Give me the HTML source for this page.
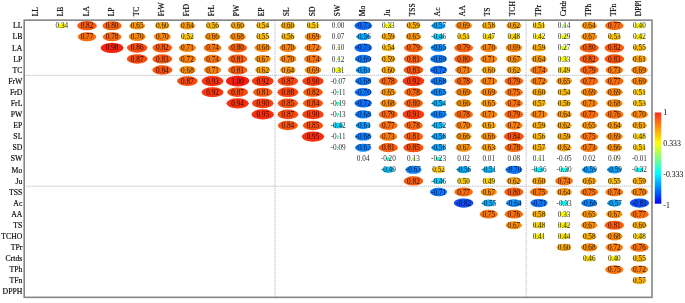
<!DOCTYPE html><html><head><meta charset="utf-8"><title>Correlation plot</title>
<style>html,body{margin:0;padding:0;background:#fff;overflow:hidden}svg{display:block}text{font-family:"Liberation Serif",serif;fill:#000}</style></head><body>
<svg width="685" height="303" viewBox="0 0 685 303">
<defs><linearGradient id="cb" x1="0" y1="0" x2="0" y2="1"><stop offset="0" stop-color="#ff2a1a"/><stop offset="0.3333" stop-color="#ffff00"/><stop offset="0.5" stop-color="#80ff80"/><stop offset="0.6667" stop-color="#00ffff"/><stop offset="1" stop-color="#0000ff"/></linearGradient><clipPath id="topclip"><rect x="0" y="0.9" width="685" height="30"/></clipPath></defs>
<rect x="0" y="0" width="685" height="303" fill="#fff"/>
<line x1="24.2" y1="75.33" x2="652.0" y2="75.33" stroke="#9a9ea8" stroke-width="0.75" stroke-dasharray="1.1 0.9"/>
<line x1="24.2" y1="186.19" x2="652.0" y2="186.19" stroke="#9a9ea8" stroke-width="0.75" stroke-dasharray="1.1 0.9"/>
<line x1="275.02" y1="20.1" x2="275.02" y2="297.3" stroke="#9a9ea8" stroke-width="0.75" stroke-dasharray="1.1 0.9"/>
<line x1="526.14" y1="20.1" x2="526.14" y2="297.3" stroke="#9a9ea8" stroke-width="0.75" stroke-dasharray="1.1 0.9"/>
<ellipse cx="61.87" cy="25.69" rx="4.22" ry="2.49" fill="rgb(248,245,14)"/>
<ellipse cx="86.98" cy="25.69" rx="9.81" ry="4.61" fill="rgb(248,91,14)"/>
<ellipse cx="112.09" cy="25.69" rx="9.59" ry="4.53" fill="rgb(248,98,14)"/>
<ellipse cx="137.20" cy="25.69" rx="7.91" ry="3.92" fill="rgb(248,151,14)"/>
<ellipse cx="162.32" cy="25.69" rx="7.33" ry="3.71" fill="rgb(248,168,14)"/>
<ellipse cx="187.43" cy="25.69" rx="7.79" ry="3.88" fill="rgb(248,154,14)"/>
<ellipse cx="212.54" cy="25.69" rx="6.86" ry="3.53" fill="rgb(248,183,14)"/>
<ellipse cx="237.65" cy="25.69" rx="7.33" ry="3.71" fill="rgb(248,168,14)"/>
<ellipse cx="262.76" cy="25.69" rx="6.62" ry="3.44" fill="rgb(248,189,14)"/>
<ellipse cx="287.88" cy="25.69" rx="7.33" ry="3.71" fill="rgb(248,168,14)"/>
<ellipse cx="312.99" cy="25.69" rx="6.27" ry="3.31" fill="rgb(248,200,14)"/>
<ellipse cx="363.21" cy="25.69" rx="8.81" ry="4.25" fill="rgb(14,108,248)"/>
<ellipse cx="388.32" cy="25.69" rx="4.10" ry="2.44" fill="rgb(247,248,15)"/>
<ellipse cx="413.44" cy="25.69" rx="7.21" ry="3.66" fill="rgb(248,172,14)"/>
<ellipse cx="438.55" cy="25.69" rx="6.98" ry="3.58" fill="rgb(14,164,248)"/>
<ellipse cx="463.66" cy="25.69" rx="8.36" ry="4.09" fill="rgb(248,137,14)"/>
<ellipse cx="488.77" cy="25.69" rx="7.09" ry="3.62" fill="rgb(248,176,14)"/>
<ellipse cx="513.88" cy="25.69" rx="7.56" ry="3.79" fill="rgb(248,162,14)"/>
<ellipse cx="539.00" cy="25.69" rx="6.27" ry="3.31" fill="rgb(248,200,14)"/>
<ellipse cx="564.11" cy="25.69" rx="1.75" ry="1.34" fill="rgb(180,248,82)"/>
<ellipse cx="589.22" cy="25.69" rx="7.79" ry="3.88" fill="rgb(248,154,14)"/>
<ellipse cx="614.33" cy="25.69" rx="9.26" ry="4.41" fill="rgb(248,108,14)"/>
<ellipse cx="639.44" cy="25.69" rx="4.95" ry="2.79" fill="rgb(248,239,14)"/>
<ellipse cx="86.98" cy="36.78" rx="9.26" ry="4.41" fill="rgb(248,108,14)"/>
<ellipse cx="112.09" cy="36.78" rx="9.37" ry="4.45" fill="rgb(248,105,14)"/>
<ellipse cx="137.20" cy="36.78" rx="8.48" ry="4.13" fill="rgb(248,133,14)"/>
<ellipse cx="162.32" cy="36.78" rx="8.48" ry="4.13" fill="rgb(248,133,14)"/>
<ellipse cx="187.43" cy="36.78" rx="6.39" ry="3.35" fill="rgb(248,197,14)"/>
<ellipse cx="212.54" cy="36.78" rx="8.02" ry="3.96" fill="rgb(248,147,14)"/>
<ellipse cx="237.65" cy="36.78" rx="8.25" ry="4.05" fill="rgb(248,141,14)"/>
<ellipse cx="262.76" cy="36.78" rx="6.74" ry="3.49" fill="rgb(248,186,14)"/>
<ellipse cx="287.88" cy="36.78" rx="6.86" ry="3.53" fill="rgb(248,183,14)"/>
<ellipse cx="312.99" cy="36.78" rx="8.36" ry="4.09" fill="rgb(248,137,14)"/>
<ellipse cx="338.10" cy="36.78" rx="0.87" ry="0.82" fill="rgb(155,248,107)"/>
<ellipse cx="363.21" cy="36.78" rx="6.86" ry="3.53" fill="rgb(14,168,248)"/>
<ellipse cx="388.32" cy="36.78" rx="7.21" ry="3.66" fill="rgb(248,172,14)"/>
<ellipse cx="413.44" cy="36.78" rx="7.91" ry="3.92" fill="rgb(248,151,14)"/>
<ellipse cx="438.55" cy="36.78" rx="5.67" ry="3.08" fill="rgb(14,204,248)"/>
<ellipse cx="463.66" cy="36.78" rx="6.27" ry="3.31" fill="rgb(248,200,14)"/>
<ellipse cx="488.77" cy="36.78" rx="5.79" ry="3.12" fill="rgb(248,214,14)"/>
<ellipse cx="513.88" cy="36.78" rx="5.91" ry="3.17" fill="rgb(248,210,14)"/>
<ellipse cx="539.00" cy="36.78" rx="5.19" ry="2.89" fill="rgb(248,232,14)"/>
<ellipse cx="564.11" cy="36.78" rx="3.61" ry="2.23" fill="rgb(233,248,29)"/>
<ellipse cx="589.22" cy="36.78" rx="8.13" ry="4.00" fill="rgb(248,144,14)"/>
<ellipse cx="614.33" cy="36.78" rx="6.51" ry="3.40" fill="rgb(248,193,14)"/>
<ellipse cx="639.44" cy="36.78" rx="5.19" ry="2.89" fill="rgb(248,232,14)"/>
<ellipse cx="112.09" cy="47.87" rx="11.50" ry="5.23" fill="rgb(248,35,14)"/>
<ellipse cx="137.20" cy="47.87" rx="10.24" ry="4.77" fill="rgb(248,77,14)"/>
<ellipse cx="162.32" cy="47.87" rx="9.81" ry="4.61" fill="rgb(248,91,14)"/>
<ellipse cx="187.43" cy="47.87" rx="8.59" ry="4.17" fill="rgb(248,130,14)"/>
<ellipse cx="212.54" cy="47.87" rx="8.93" ry="4.29" fill="rgb(248,119,14)"/>
<ellipse cx="237.65" cy="47.87" rx="9.59" ry="4.53" fill="rgb(248,98,14)"/>
<ellipse cx="262.76" cy="47.87" rx="8.25" ry="4.05" fill="rgb(248,141,14)"/>
<ellipse cx="287.88" cy="47.87" rx="8.48" ry="4.13" fill="rgb(248,133,14)"/>
<ellipse cx="312.99" cy="47.87" rx="8.70" ry="4.21" fill="rgb(248,126,14)"/>
<ellipse cx="338.10" cy="47.87" rx="1.25" ry="1.06" fill="rgb(166,248,95)"/>
<ellipse cx="363.21" cy="47.87" rx="8.81" ry="4.25" fill="rgb(14,108,248)"/>
<ellipse cx="388.32" cy="47.87" rx="6.62" ry="3.44" fill="rgb(248,189,14)"/>
<ellipse cx="413.44" cy="47.87" rx="9.48" ry="4.49" fill="rgb(248,102,14)"/>
<ellipse cx="438.55" cy="47.87" rx="7.91" ry="3.92" fill="rgb(14,137,248)"/>
<ellipse cx="463.66" cy="47.87" rx="9.48" ry="4.49" fill="rgb(248,102,14)"/>
<ellipse cx="488.77" cy="47.87" rx="8.48" ry="4.13" fill="rgb(248,133,14)"/>
<ellipse cx="513.88" cy="47.87" rx="8.36" ry="4.09" fill="rgb(248,137,14)"/>
<ellipse cx="539.00" cy="47.87" rx="7.21" ry="3.66" fill="rgb(248,172,14)"/>
<ellipse cx="564.11" cy="47.87" rx="3.36" ry="2.12" fill="rgb(226,248,36)"/>
<ellipse cx="589.22" cy="47.87" rx="9.59" ry="4.53" fill="rgb(248,98,14)"/>
<ellipse cx="614.33" cy="47.87" rx="9.81" ry="4.61" fill="rgb(248,91,14)"/>
<ellipse cx="639.44" cy="47.87" rx="6.74" ry="3.49" fill="rgb(248,186,14)"/>
<ellipse cx="137.20" cy="58.95" rx="10.35" ry="4.81" fill="rgb(248,73,14)"/>
<ellipse cx="162.32" cy="58.95" rx="9.92" ry="4.65" fill="rgb(248,87,14)"/>
<ellipse cx="187.43" cy="58.95" rx="8.70" ry="4.21" fill="rgb(248,126,14)"/>
<ellipse cx="212.54" cy="58.95" rx="8.93" ry="4.29" fill="rgb(248,119,14)"/>
<ellipse cx="237.65" cy="58.95" rx="9.70" ry="4.57" fill="rgb(248,95,14)"/>
<ellipse cx="262.76" cy="58.95" rx="8.13" ry="4.00" fill="rgb(248,144,14)"/>
<ellipse cx="287.88" cy="58.95" rx="8.48" ry="4.13" fill="rgb(248,133,14)"/>
<ellipse cx="312.99" cy="58.95" rx="8.93" ry="4.29" fill="rgb(248,119,14)"/>
<ellipse cx="338.10" cy="58.95" rx="1.50" ry="1.20" fill="rgb(173,248,89)"/>
<ellipse cx="363.21" cy="58.95" rx="8.36" ry="4.09" fill="rgb(14,123,248)"/>
<ellipse cx="388.32" cy="58.95" rx="7.21" ry="3.66" fill="rgb(248,172,14)"/>
<ellipse cx="413.44" cy="58.95" rx="9.70" ry="4.57" fill="rgb(248,95,14)"/>
<ellipse cx="438.55" cy="58.95" rx="8.36" ry="4.09" fill="rgb(14,123,248)"/>
<ellipse cx="463.66" cy="58.95" rx="9.59" ry="4.53" fill="rgb(248,98,14)"/>
<ellipse cx="488.77" cy="58.95" rx="8.59" ry="4.17" fill="rgb(248,130,14)"/>
<ellipse cx="513.88" cy="58.95" rx="8.13" ry="4.00" fill="rgb(248,144,14)"/>
<ellipse cx="539.00" cy="58.95" rx="7.79" ry="3.88" fill="rgb(248,154,14)"/>
<ellipse cx="564.11" cy="58.95" rx="4.10" ry="2.44" fill="rgb(247,248,15)"/>
<ellipse cx="589.22" cy="58.95" rx="9.81" ry="4.61" fill="rgb(248,91,14)"/>
<ellipse cx="614.33" cy="58.95" rx="9.92" ry="4.65" fill="rgb(248,87,14)"/>
<ellipse cx="639.44" cy="58.95" rx="7.44" ry="3.75" fill="rgb(248,164,14)"/>
<ellipse cx="162.32" cy="70.04" rx="10.03" ry="4.69" fill="rgb(248,84,14)"/>
<ellipse cx="187.43" cy="70.04" rx="8.25" ry="4.05" fill="rgb(248,141,14)"/>
<ellipse cx="212.54" cy="70.04" rx="8.59" ry="4.17" fill="rgb(248,130,14)"/>
<ellipse cx="237.65" cy="70.04" rx="9.70" ry="4.57" fill="rgb(248,95,14)"/>
<ellipse cx="262.76" cy="70.04" rx="7.56" ry="3.79" fill="rgb(248,162,14)"/>
<ellipse cx="287.88" cy="70.04" rx="7.79" ry="3.88" fill="rgb(248,154,14)"/>
<ellipse cx="312.99" cy="70.04" rx="8.36" ry="4.09" fill="rgb(248,137,14)"/>
<ellipse cx="338.10" cy="70.04" rx="3.85" ry="2.33" fill="rgb(240,248,22)"/>
<ellipse cx="363.21" cy="70.04" rx="7.44" ry="3.75" fill="rgb(14,151,248)"/>
<ellipse cx="388.32" cy="70.04" rx="7.33" ry="3.71" fill="rgb(248,168,14)"/>
<ellipse cx="413.44" cy="70.04" rx="9.92" ry="4.65" fill="rgb(248,87,14)"/>
<ellipse cx="438.55" cy="70.04" rx="8.70" ry="4.21" fill="rgb(14,112,248)"/>
<ellipse cx="463.66" cy="70.04" rx="8.59" ry="4.17" fill="rgb(248,130,14)"/>
<ellipse cx="488.77" cy="70.04" rx="7.33" ry="3.71" fill="rgb(248,168,14)"/>
<ellipse cx="513.88" cy="70.04" rx="7.56" ry="3.79" fill="rgb(248,162,14)"/>
<ellipse cx="539.00" cy="70.04" rx="8.93" ry="4.29" fill="rgb(248,119,14)"/>
<ellipse cx="564.11" cy="70.04" rx="6.03" ry="3.22" fill="rgb(248,207,14)"/>
<ellipse cx="589.22" cy="70.04" rx="9.48" ry="4.49" fill="rgb(248,102,14)"/>
<ellipse cx="614.33" cy="70.04" rx="8.81" ry="4.25" fill="rgb(248,123,14)"/>
<ellipse cx="639.44" cy="70.04" rx="8.36" ry="4.09" fill="rgb(248,137,14)"/>
<ellipse cx="187.43" cy="81.12" rx="10.35" ry="4.81" fill="rgb(248,73,14)"/>
<ellipse cx="212.54" cy="81.12" rx="10.98" ry="5.04" fill="rgb(248,52,14)"/>
<ellipse cx="237.65" cy="81.12" rx="11.70" ry="5.30" fill="rgb(248,27,14)"/>
<ellipse cx="262.76" cy="81.12" rx="10.88" ry="5.00" fill="rgb(248,56,14)"/>
<ellipse cx="287.88" cy="81.12" rx="10.35" ry="4.81" fill="rgb(248,73,14)"/>
<ellipse cx="312.99" cy="81.12" rx="10.67" ry="4.92" fill="rgb(248,63,14)"/>
<ellipse cx="338.10" cy="81.12" rx="0.87" ry="0.82" fill="rgb(107,248,155)"/>
<ellipse cx="363.21" cy="81.12" rx="8.25" ry="4.05" fill="rgb(14,126,248)"/>
<ellipse cx="388.32" cy="81.12" rx="9.37" ry="4.45" fill="rgb(248,105,14)"/>
<ellipse cx="413.44" cy="81.12" rx="10.88" ry="5.00" fill="rgb(248,56,14)"/>
<ellipse cx="438.55" cy="81.12" rx="8.25" ry="4.05" fill="rgb(14,126,248)"/>
<ellipse cx="463.66" cy="81.12" rx="9.37" ry="4.45" fill="rgb(248,105,14)"/>
<ellipse cx="488.77" cy="81.12" rx="8.59" ry="4.17" fill="rgb(248,130,14)"/>
<ellipse cx="513.88" cy="81.12" rx="9.48" ry="4.49" fill="rgb(248,102,14)"/>
<ellipse cx="539.00" cy="81.12" rx="8.70" ry="4.21" fill="rgb(248,126,14)"/>
<ellipse cx="564.11" cy="81.12" rx="7.91" ry="3.92" fill="rgb(248,151,14)"/>
<ellipse cx="589.22" cy="81.12" rx="9.26" ry="4.41" fill="rgb(248,108,14)"/>
<ellipse cx="614.33" cy="81.12" rx="9.26" ry="4.41" fill="rgb(248,108,14)"/>
<ellipse cx="639.44" cy="81.12" rx="8.36" ry="4.09" fill="rgb(248,137,14)"/>
<ellipse cx="212.54" cy="92.21" rx="10.88" ry="5.00" fill="rgb(248,56,14)"/>
<ellipse cx="237.65" cy="92.21" rx="10.35" ry="4.81" fill="rgb(248,73,14)"/>
<ellipse cx="262.76" cy="92.21" rx="9.70" ry="4.57" fill="rgb(248,95,14)"/>
<ellipse cx="287.88" cy="92.21" rx="10.45" ry="4.85" fill="rgb(248,70,14)"/>
<ellipse cx="312.99" cy="92.21" rx="9.81" ry="4.61" fill="rgb(248,91,14)"/>
<ellipse cx="338.10" cy="92.21" rx="1.37" ry="1.13" fill="rgb(92,248,170)"/>
<ellipse cx="363.21" cy="92.21" rx="8.48" ry="4.13" fill="rgb(14,119,248)"/>
<ellipse cx="388.32" cy="92.21" rx="7.91" ry="3.92" fill="rgb(248,151,14)"/>
<ellipse cx="413.44" cy="92.21" rx="9.37" ry="4.45" fill="rgb(248,105,14)"/>
<ellipse cx="438.55" cy="92.21" rx="7.91" ry="3.92" fill="rgb(14,137,248)"/>
<ellipse cx="463.66" cy="92.21" rx="8.36" ry="4.09" fill="rgb(248,137,14)"/>
<ellipse cx="488.77" cy="92.21" rx="8.36" ry="4.09" fill="rgb(248,137,14)"/>
<ellipse cx="513.88" cy="92.21" rx="9.04" ry="4.33" fill="rgb(248,116,14)"/>
<ellipse cx="539.00" cy="92.21" rx="7.33" ry="3.71" fill="rgb(248,168,14)"/>
<ellipse cx="564.11" cy="92.21" rx="6.62" ry="3.44" fill="rgb(248,189,14)"/>
<ellipse cx="589.22" cy="92.21" rx="8.36" ry="4.09" fill="rgb(248,137,14)"/>
<ellipse cx="614.33" cy="92.21" rx="8.36" ry="4.09" fill="rgb(248,137,14)"/>
<ellipse cx="639.44" cy="92.21" rx="6.27" ry="3.31" fill="rgb(248,200,14)"/>
<ellipse cx="237.65" cy="103.30" rx="11.09" ry="5.08" fill="rgb(248,49,14)"/>
<ellipse cx="262.76" cy="103.30" rx="10.67" ry="4.92" fill="rgb(248,63,14)"/>
<ellipse cx="287.88" cy="103.30" rx="10.13" ry="4.73" fill="rgb(248,81,14)"/>
<ellipse cx="312.99" cy="103.30" rx="10.03" ry="4.69" fill="rgb(248,84,14)"/>
<ellipse cx="338.10" cy="103.30" rx="2.37" ry="1.66" fill="rgb(64,248,198)"/>
<ellipse cx="363.21" cy="103.30" rx="8.70" ry="4.21" fill="rgb(14,112,248)"/>
<ellipse cx="388.32" cy="103.30" rx="8.25" ry="4.05" fill="rgb(248,141,14)"/>
<ellipse cx="413.44" cy="103.30" rx="9.59" ry="4.53" fill="rgb(248,98,14)"/>
<ellipse cx="438.55" cy="103.30" rx="6.62" ry="3.44" fill="rgb(14,176,248)"/>
<ellipse cx="463.66" cy="103.30" rx="8.02" ry="3.96" fill="rgb(248,147,14)"/>
<ellipse cx="488.77" cy="103.30" rx="7.91" ry="3.92" fill="rgb(248,151,14)"/>
<ellipse cx="513.88" cy="103.30" rx="8.93" ry="4.29" fill="rgb(248,119,14)"/>
<ellipse cx="539.00" cy="103.30" rx="6.98" ry="3.58" fill="rgb(248,179,14)"/>
<ellipse cx="564.11" cy="103.30" rx="6.86" ry="3.53" fill="rgb(248,183,14)"/>
<ellipse cx="589.22" cy="103.30" rx="8.59" ry="4.17" fill="rgb(248,130,14)"/>
<ellipse cx="614.33" cy="103.30" rx="8.25" ry="4.05" fill="rgb(248,141,14)"/>
<ellipse cx="639.44" cy="103.30" rx="6.51" ry="3.40" fill="rgb(248,193,14)"/>
<ellipse cx="262.76" cy="114.38" rx="11.19" ry="5.11" fill="rgb(248,45,14)"/>
<ellipse cx="287.88" cy="114.38" rx="10.35" ry="4.81" fill="rgb(248,73,14)"/>
<ellipse cx="312.99" cy="114.38" rx="10.67" ry="4.92" fill="rgb(248,63,14)"/>
<ellipse cx="338.10" cy="114.38" rx="1.62" ry="1.27" fill="rgb(85,248,176)"/>
<ellipse cx="363.21" cy="114.38" rx="8.25" ry="4.05" fill="rgb(14,126,248)"/>
<ellipse cx="388.32" cy="114.38" rx="9.48" ry="4.49" fill="rgb(248,102,14)"/>
<ellipse cx="413.44" cy="114.38" rx="10.77" ry="4.96" fill="rgb(248,60,14)"/>
<ellipse cx="438.55" cy="114.38" rx="8.13" ry="4.00" fill="rgb(14,130,248)"/>
<ellipse cx="463.66" cy="114.38" rx="9.37" ry="4.45" fill="rgb(248,105,14)"/>
<ellipse cx="488.77" cy="114.38" rx="8.59" ry="4.17" fill="rgb(248,130,14)"/>
<ellipse cx="513.88" cy="114.38" rx="9.48" ry="4.49" fill="rgb(248,102,14)"/>
<ellipse cx="539.00" cy="114.38" rx="8.59" ry="4.17" fill="rgb(248,130,14)"/>
<ellipse cx="564.11" cy="114.38" rx="7.79" ry="3.88" fill="rgb(248,154,14)"/>
<ellipse cx="589.22" cy="114.38" rx="9.26" ry="4.41" fill="rgb(248,108,14)"/>
<ellipse cx="614.33" cy="114.38" rx="9.15" ry="4.37" fill="rgb(248,112,14)"/>
<ellipse cx="639.44" cy="114.38" rx="8.48" ry="4.13" fill="rgb(248,133,14)"/>
<ellipse cx="287.88" cy="125.47" rx="10.03" ry="4.69" fill="rgb(248,84,14)"/>
<ellipse cx="312.99" cy="125.47" rx="10.13" ry="4.73" fill="rgb(248,81,14)"/>
<ellipse cx="338.10" cy="125.47" rx="5.19" ry="2.89" fill="rgb(14,218,248)"/>
<ellipse cx="363.21" cy="125.47" rx="7.44" ry="3.75" fill="rgb(14,151,248)"/>
<ellipse cx="388.32" cy="125.47" rx="9.26" ry="4.41" fill="rgb(248,108,14)"/>
<ellipse cx="413.44" cy="125.47" rx="9.37" ry="4.45" fill="rgb(248,105,14)"/>
<ellipse cx="438.55" cy="125.47" rx="6.39" ry="3.35" fill="rgb(14,183,248)"/>
<ellipse cx="463.66" cy="125.47" rx="8.48" ry="4.13" fill="rgb(248,133,14)"/>
<ellipse cx="488.77" cy="125.47" rx="7.44" ry="3.75" fill="rgb(248,164,14)"/>
<ellipse cx="513.88" cy="125.47" rx="8.70" ry="4.21" fill="rgb(248,126,14)"/>
<ellipse cx="539.00" cy="125.47" rx="7.21" ry="3.66" fill="rgb(248,172,14)"/>
<ellipse cx="564.11" cy="125.47" rx="7.56" ry="3.79" fill="rgb(248,162,14)"/>
<ellipse cx="589.22" cy="125.47" rx="7.91" ry="3.92" fill="rgb(248,151,14)"/>
<ellipse cx="614.33" cy="125.47" rx="7.79" ry="3.88" fill="rgb(248,154,14)"/>
<ellipse cx="639.44" cy="125.47" rx="7.44" ry="3.75" fill="rgb(248,164,14)"/>
<ellipse cx="312.99" cy="136.55" rx="11.19" ry="5.11" fill="rgb(248,45,14)"/>
<ellipse cx="338.10" cy="136.55" rx="1.37" ry="1.13" fill="rgb(92,248,170)"/>
<ellipse cx="363.21" cy="136.55" rx="8.25" ry="4.05" fill="rgb(14,126,248)"/>
<ellipse cx="388.32" cy="136.55" rx="8.81" ry="4.25" fill="rgb(248,123,14)"/>
<ellipse cx="413.44" cy="136.55" rx="9.70" ry="4.57" fill="rgb(248,95,14)"/>
<ellipse cx="438.55" cy="136.55" rx="7.09" ry="3.62" fill="rgb(14,162,248)"/>
<ellipse cx="463.66" cy="136.55" rx="8.02" ry="3.96" fill="rgb(248,147,14)"/>
<ellipse cx="488.77" cy="136.55" rx="8.02" ry="3.96" fill="rgb(248,147,14)"/>
<ellipse cx="513.88" cy="136.55" rx="10.03" ry="4.69" fill="rgb(248,84,14)"/>
<ellipse cx="539.00" cy="136.55" rx="6.86" ry="3.53" fill="rgb(248,183,14)"/>
<ellipse cx="564.11" cy="136.55" rx="7.21" ry="3.66" fill="rgb(248,172,14)"/>
<ellipse cx="589.22" cy="136.55" rx="9.04" ry="4.33" fill="rgb(248,116,14)"/>
<ellipse cx="614.33" cy="136.55" rx="8.36" ry="4.09" fill="rgb(248,137,14)"/>
<ellipse cx="639.44" cy="136.55" rx="5.91" ry="3.17" fill="rgb(248,210,14)"/>
<ellipse cx="338.10" cy="147.64" rx="1.12" ry="0.98" fill="rgb(99,248,163)"/>
<ellipse cx="363.21" cy="147.64" rx="8.13" ry="4.00" fill="rgb(14,130,248)"/>
<ellipse cx="388.32" cy="147.64" rx="9.70" ry="4.57" fill="rgb(248,95,14)"/>
<ellipse cx="413.44" cy="147.64" rx="10.13" ry="4.73" fill="rgb(248,81,14)"/>
<ellipse cx="438.55" cy="147.64" rx="7.09" ry="3.62" fill="rgb(14,162,248)"/>
<ellipse cx="463.66" cy="147.64" rx="8.13" ry="4.00" fill="rgb(248,144,14)"/>
<ellipse cx="488.77" cy="147.64" rx="7.67" ry="3.84" fill="rgb(248,158,14)"/>
<ellipse cx="513.88" cy="147.64" rx="9.37" ry="4.45" fill="rgb(248,105,14)"/>
<ellipse cx="539.00" cy="147.64" rx="6.98" ry="3.58" fill="rgb(248,179,14)"/>
<ellipse cx="564.11" cy="147.64" rx="7.56" ry="3.79" fill="rgb(248,162,14)"/>
<ellipse cx="589.22" cy="147.64" rx="8.81" ry="4.25" fill="rgb(248,123,14)"/>
<ellipse cx="614.33" cy="147.64" rx="8.02" ry="3.96" fill="rgb(248,147,14)"/>
<ellipse cx="639.44" cy="147.64" rx="6.27" ry="3.31" fill="rgb(248,200,14)"/>
<ellipse cx="363.21" cy="158.73" rx="0.50" ry="0.56" fill="rgb(145,248,117)"/>
<ellipse cx="388.32" cy="158.73" rx="2.49" ry="1.72" fill="rgb(61,248,201)"/>
<ellipse cx="413.44" cy="158.73" rx="1.62" ry="1.27" fill="rgb(176,248,85)"/>
<ellipse cx="438.55" cy="158.73" rx="2.87" ry="1.89" fill="rgb(50,248,211)"/>
<ellipse cx="463.66" cy="158.73" rx="0.25" ry="0.34" fill="rgb(138,248,124)"/>
<ellipse cx="488.77" cy="158.73" rx="0.12" ry="0.21" fill="rgb(134,248,128)"/>
<ellipse cx="513.88" cy="158.73" rx="1.00" ry="0.90" fill="rgb(159,248,103)"/>
<ellipse cx="539.00" cy="158.73" rx="1.37" ry="1.13" fill="rgb(170,248,92)"/>
<ellipse cx="564.11" cy="158.73" rx="0.62" ry="0.65" fill="rgb(113,248,149)"/>
<ellipse cx="589.22" cy="158.73" rx="0.25" ry="0.34" fill="rgb(138,248,124)"/>
<ellipse cx="614.33" cy="158.73" rx="1.12" ry="0.98" fill="rgb(163,248,99)"/>
<ellipse cx="639.44" cy="158.73" rx="0.12" ry="0.21" fill="rgb(128,248,134)"/>
<ellipse cx="388.32" cy="169.81" rx="6.03" ry="3.22" fill="rgb(14,193,248)"/>
<ellipse cx="413.44" cy="169.81" rx="8.13" ry="4.00" fill="rgb(14,130,248)"/>
<ellipse cx="438.55" cy="169.81" rx="6.39" ry="3.35" fill="rgb(248,197,14)"/>
<ellipse cx="463.66" cy="169.81" rx="6.86" ry="3.53" fill="rgb(14,168,248)"/>
<ellipse cx="488.77" cy="169.81" rx="6.27" ry="3.31" fill="rgb(14,186,248)"/>
<ellipse cx="513.88" cy="169.81" rx="8.48" ry="4.13" fill="rgb(14,119,248)"/>
<ellipse cx="539.00" cy="169.81" rx="4.46" ry="2.59" fill="rgb(14,239,248)"/>
<ellipse cx="564.11" cy="169.81" rx="3.73" ry="2.28" fill="rgb(26,248,236)"/>
<ellipse cx="589.22" cy="169.81" rx="7.21" ry="3.66" fill="rgb(14,158,248)"/>
<ellipse cx="614.33" cy="169.81" rx="7.21" ry="3.66" fill="rgb(14,158,248)"/>
<ellipse cx="639.44" cy="169.81" rx="3.97" ry="2.39" fill="rgb(18,248,244)"/>
<ellipse cx="413.44" cy="180.90" rx="9.81" ry="4.61" fill="rgb(248,91,14)"/>
<ellipse cx="438.55" cy="180.90" rx="5.67" ry="3.08" fill="rgb(14,204,248)"/>
<ellipse cx="463.66" cy="180.90" rx="6.15" ry="3.26" fill="rgb(248,204,14)"/>
<ellipse cx="488.77" cy="180.90" rx="6.03" ry="3.22" fill="rgb(248,207,14)"/>
<ellipse cx="513.88" cy="180.90" rx="7.56" ry="3.79" fill="rgb(248,162,14)"/>
<ellipse cx="539.00" cy="180.90" rx="7.33" ry="3.71" fill="rgb(248,168,14)"/>
<ellipse cx="564.11" cy="180.90" rx="8.93" ry="4.29" fill="rgb(248,119,14)"/>
<ellipse cx="589.22" cy="180.90" rx="7.44" ry="3.75" fill="rgb(248,164,14)"/>
<ellipse cx="614.33" cy="180.90" rx="6.74" ry="3.49" fill="rgb(248,186,14)"/>
<ellipse cx="639.44" cy="180.90" rx="7.21" ry="3.66" fill="rgb(248,172,14)"/>
<ellipse cx="438.55" cy="191.98" rx="8.59" ry="4.17" fill="rgb(14,116,248)"/>
<ellipse cx="463.66" cy="191.98" rx="9.26" ry="4.41" fill="rgb(248,108,14)"/>
<ellipse cx="488.77" cy="191.98" rx="8.13" ry="4.00" fill="rgb(248,144,14)"/>
<ellipse cx="513.88" cy="191.98" rx="9.59" ry="4.53" fill="rgb(248,98,14)"/>
<ellipse cx="539.00" cy="191.98" rx="9.04" ry="4.33" fill="rgb(248,116,14)"/>
<ellipse cx="564.11" cy="191.98" rx="7.79" ry="3.88" fill="rgb(248,154,14)"/>
<ellipse cx="589.22" cy="191.98" rx="9.04" ry="4.33" fill="rgb(248,116,14)"/>
<ellipse cx="614.33" cy="191.98" rx="8.93" ry="4.29" fill="rgb(248,119,14)"/>
<ellipse cx="639.44" cy="191.98" rx="8.48" ry="4.13" fill="rgb(248,133,14)"/>
<ellipse cx="463.66" cy="203.07" rx="9.81" ry="4.61" fill="rgb(14,77,248)"/>
<ellipse cx="488.77" cy="203.07" rx="6.74" ry="3.49" fill="rgb(14,172,248)"/>
<ellipse cx="513.88" cy="203.07" rx="7.79" ry="3.88" fill="rgb(14,141,248)"/>
<ellipse cx="539.00" cy="203.07" rx="8.59" ry="4.17" fill="rgb(14,116,248)"/>
<ellipse cx="564.11" cy="203.07" rx="4.10" ry="2.44" fill="rgb(15,248,247)"/>
<ellipse cx="589.22" cy="203.07" rx="8.02" ry="3.96" fill="rgb(14,133,248)"/>
<ellipse cx="614.33" cy="203.07" rx="6.98" ry="3.58" fill="rgb(14,164,248)"/>
<ellipse cx="639.44" cy="203.07" rx="9.70" ry="4.57" fill="rgb(14,81,248)"/>
<ellipse cx="488.77" cy="214.16" rx="9.04" ry="4.33" fill="rgb(248,116,14)"/>
<ellipse cx="513.88" cy="214.16" rx="9.15" ry="4.37" fill="rgb(248,112,14)"/>
<ellipse cx="539.00" cy="214.16" rx="7.09" ry="3.62" fill="rgb(248,176,14)"/>
<ellipse cx="564.11" cy="214.16" rx="4.10" ry="2.44" fill="rgb(247,248,15)"/>
<ellipse cx="589.22" cy="214.16" rx="7.91" ry="3.92" fill="rgb(248,151,14)"/>
<ellipse cx="614.33" cy="214.16" rx="8.13" ry="4.00" fill="rgb(248,144,14)"/>
<ellipse cx="639.44" cy="214.16" rx="9.26" ry="4.41" fill="rgb(248,108,14)"/>
<ellipse cx="513.88" cy="225.24" rx="8.13" ry="4.00" fill="rgb(248,144,14)"/>
<ellipse cx="539.00" cy="225.24" rx="5.91" ry="3.17" fill="rgb(248,210,14)"/>
<ellipse cx="564.11" cy="225.24" rx="5.19" ry="2.89" fill="rgb(248,232,14)"/>
<ellipse cx="589.22" cy="225.24" rx="8.13" ry="4.00" fill="rgb(248,144,14)"/>
<ellipse cx="614.33" cy="225.24" rx="9.70" ry="4.57" fill="rgb(248,95,14)"/>
<ellipse cx="639.44" cy="225.24" rx="7.33" ry="3.71" fill="rgb(248,168,14)"/>
<ellipse cx="539.00" cy="236.33" rx="5.07" ry="2.84" fill="rgb(248,235,14)"/>
<ellipse cx="564.11" cy="236.33" rx="5.43" ry="2.98" fill="rgb(248,225,14)"/>
<ellipse cx="589.22" cy="236.33" rx="7.09" ry="3.62" fill="rgb(248,176,14)"/>
<ellipse cx="614.33" cy="236.33" rx="8.25" ry="4.05" fill="rgb(248,141,14)"/>
<ellipse cx="639.44" cy="236.33" rx="5.91" ry="3.17" fill="rgb(248,210,14)"/>
<ellipse cx="564.11" cy="247.41" rx="7.33" ry="3.71" fill="rgb(248,168,14)"/>
<ellipse cx="589.22" cy="247.41" rx="8.25" ry="4.05" fill="rgb(248,141,14)"/>
<ellipse cx="614.33" cy="247.41" rx="8.70" ry="4.21" fill="rgb(248,126,14)"/>
<ellipse cx="639.44" cy="247.41" rx="9.15" ry="4.37" fill="rgb(248,112,14)"/>
<ellipse cx="589.22" cy="258.50" rx="5.67" ry="3.08" fill="rgb(248,218,14)"/>
<ellipse cx="614.33" cy="258.50" rx="4.95" ry="2.79" fill="rgb(248,239,14)"/>
<ellipse cx="639.44" cy="258.50" rx="6.74" ry="3.49" fill="rgb(248,186,14)"/>
<ellipse cx="614.33" cy="269.59" rx="9.04" ry="4.33" fill="rgb(248,116,14)"/>
<ellipse cx="639.44" cy="269.59" rx="8.70" ry="4.21" fill="rgb(248,126,14)"/>
<ellipse cx="639.44" cy="280.67" rx="6.98" ry="3.58" fill="rgb(248,179,14)"/>
<rect x="24.2" y="20.15" width="627.8" height="277.2" fill="none" stroke="#858585" stroke-width="1.6"/>
<g font-size="7.8" text-anchor="middle" fill-opacity="0.85">
<text transform="translate(61.87,28.29) scale(0.93,1)">0.34</text>
<text transform="translate(86.98,28.29) scale(0.93,1)">0.82</text>
<text transform="translate(112.09,28.29) scale(0.93,1)">0.80</text>
<text transform="translate(137.20,28.29) scale(0.93,1)">0.65</text>
<text transform="translate(162.32,28.29) scale(0.93,1)">0.60</text>
<text transform="translate(187.43,28.29) scale(0.93,1)">0.64</text>
<text transform="translate(212.54,28.29) scale(0.93,1)">0.56</text>
<text transform="translate(237.65,28.29) scale(0.93,1)">0.60</text>
<text transform="translate(262.76,28.29) scale(0.93,1)">0.54</text>
<text transform="translate(287.88,28.29) scale(0.93,1)">0.60</text>
<text transform="translate(312.99,28.29) scale(0.93,1)">0.51</text>
<text transform="translate(338.10,28.29) scale(0.93,1)">0.00</text>
<text transform="translate(363.21,28.29) scale(0.93,1)">-0.73</text>
<text transform="translate(388.32,28.29) scale(0.93,1)">0.33</text>
<text transform="translate(413.44,28.29) scale(0.93,1)">0.59</text>
<text transform="translate(438.55,28.29) scale(0.93,1)">-0.57</text>
<text transform="translate(463.66,28.29) scale(0.93,1)">0.69</text>
<text transform="translate(488.77,28.29) scale(0.93,1)">0.58</text>
<text transform="translate(513.88,28.29) scale(0.93,1)">0.62</text>
<text transform="translate(539.00,28.29) scale(0.93,1)">0.51</text>
<text transform="translate(564.11,28.29) scale(0.93,1)">0.14</text>
<text transform="translate(589.22,28.29) scale(0.93,1)">0.64</text>
<text transform="translate(614.33,28.29) scale(0.93,1)">0.77</text>
<text transform="translate(639.44,28.29) scale(0.93,1)">0.40</text>
<text transform="translate(86.98,39.38) scale(0.93,1)">0.77</text>
<text transform="translate(112.09,39.38) scale(0.93,1)">0.78</text>
<text transform="translate(137.20,39.38) scale(0.93,1)">0.70</text>
<text transform="translate(162.32,39.38) scale(0.93,1)">0.70</text>
<text transform="translate(187.43,39.38) scale(0.93,1)">0.52</text>
<text transform="translate(212.54,39.38) scale(0.93,1)">0.66</text>
<text transform="translate(237.65,39.38) scale(0.93,1)">0.68</text>
<text transform="translate(262.76,39.38) scale(0.93,1)">0.55</text>
<text transform="translate(287.88,39.38) scale(0.93,1)">0.56</text>
<text transform="translate(312.99,39.38) scale(0.93,1)">0.69</text>
<text transform="translate(338.10,39.38) scale(0.93,1)">0.07</text>
<text transform="translate(363.21,39.38) scale(0.93,1)">-0.56</text>
<text transform="translate(388.32,39.38) scale(0.93,1)">0.59</text>
<text transform="translate(413.44,39.38) scale(0.93,1)">0.65</text>
<text transform="translate(438.55,39.38) scale(0.93,1)">-0.46</text>
<text transform="translate(463.66,39.38) scale(0.93,1)">0.51</text>
<text transform="translate(488.77,39.38) scale(0.93,1)">0.47</text>
<text transform="translate(513.88,39.38) scale(0.93,1)">0.48</text>
<text transform="translate(539.00,39.38) scale(0.93,1)">0.42</text>
<text transform="translate(564.11,39.38) scale(0.93,1)">0.29</text>
<text transform="translate(589.22,39.38) scale(0.93,1)">0.67</text>
<text transform="translate(614.33,39.38) scale(0.93,1)">0.53</text>
<text transform="translate(639.44,39.38) scale(0.93,1)">0.42</text>
<text transform="translate(112.09,50.47) scale(0.93,1)">0.98</text>
<text transform="translate(137.20,50.47) scale(0.93,1)">0.86</text>
<text transform="translate(162.32,50.47) scale(0.93,1)">0.82</text>
<text transform="translate(187.43,50.47) scale(0.93,1)">0.71</text>
<text transform="translate(212.54,50.47) scale(0.93,1)">0.74</text>
<text transform="translate(237.65,50.47) scale(0.93,1)">0.80</text>
<text transform="translate(262.76,50.47) scale(0.93,1)">0.68</text>
<text transform="translate(287.88,50.47) scale(0.93,1)">0.70</text>
<text transform="translate(312.99,50.47) scale(0.93,1)">0.72</text>
<text transform="translate(338.10,50.47) scale(0.93,1)">0.10</text>
<text transform="translate(363.21,50.47) scale(0.93,1)">-0.73</text>
<text transform="translate(388.32,50.47) scale(0.93,1)">0.54</text>
<text transform="translate(413.44,50.47) scale(0.93,1)">0.79</text>
<text transform="translate(438.55,50.47) scale(0.93,1)">-0.65</text>
<text transform="translate(463.66,50.47) scale(0.93,1)">0.79</text>
<text transform="translate(488.77,50.47) scale(0.93,1)">0.70</text>
<text transform="translate(513.88,50.47) scale(0.93,1)">0.69</text>
<text transform="translate(539.00,50.47) scale(0.93,1)">0.59</text>
<text transform="translate(564.11,50.47) scale(0.93,1)">0.27</text>
<text transform="translate(589.22,50.47) scale(0.93,1)">0.80</text>
<text transform="translate(614.33,50.47) scale(0.93,1)">0.82</text>
<text transform="translate(639.44,50.47) scale(0.93,1)">0.55</text>
<text transform="translate(137.20,61.55) scale(0.93,1)">0.87</text>
<text transform="translate(162.32,61.55) scale(0.93,1)">0.83</text>
<text transform="translate(187.43,61.55) scale(0.93,1)">0.72</text>
<text transform="translate(212.54,61.55) scale(0.93,1)">0.74</text>
<text transform="translate(237.65,61.55) scale(0.93,1)">0.81</text>
<text transform="translate(262.76,61.55) scale(0.93,1)">0.67</text>
<text transform="translate(287.88,61.55) scale(0.93,1)">0.70</text>
<text transform="translate(312.99,61.55) scale(0.93,1)">0.74</text>
<text transform="translate(338.10,61.55) scale(0.93,1)">0.12</text>
<text transform="translate(363.21,61.55) scale(0.93,1)">-0.69</text>
<text transform="translate(388.32,61.55) scale(0.93,1)">0.59</text>
<text transform="translate(413.44,61.55) scale(0.93,1)">0.81</text>
<text transform="translate(438.55,61.55) scale(0.93,1)">-0.69</text>
<text transform="translate(463.66,61.55) scale(0.93,1)">0.80</text>
<text transform="translate(488.77,61.55) scale(0.93,1)">0.71</text>
<text transform="translate(513.88,61.55) scale(0.93,1)">0.67</text>
<text transform="translate(539.00,61.55) scale(0.93,1)">0.64</text>
<text transform="translate(564.11,61.55) scale(0.93,1)">0.33</text>
<text transform="translate(589.22,61.55) scale(0.93,1)">0.82</text>
<text transform="translate(614.33,61.55) scale(0.93,1)">0.83</text>
<text transform="translate(639.44,61.55) scale(0.93,1)">0.61</text>
<text transform="translate(162.32,72.64) scale(0.93,1)">0.84</text>
<text transform="translate(187.43,72.64) scale(0.93,1)">0.68</text>
<text transform="translate(212.54,72.64) scale(0.93,1)">0.71</text>
<text transform="translate(237.65,72.64) scale(0.93,1)">0.81</text>
<text transform="translate(262.76,72.64) scale(0.93,1)">0.62</text>
<text transform="translate(287.88,72.64) scale(0.93,1)">0.64</text>
<text transform="translate(312.99,72.64) scale(0.93,1)">0.69</text>
<text transform="translate(338.10,72.64) scale(0.93,1)">0.31</text>
<text transform="translate(363.21,72.64) scale(0.93,1)">-0.61</text>
<text transform="translate(388.32,72.64) scale(0.93,1)">0.60</text>
<text transform="translate(413.44,72.64) scale(0.93,1)">0.83</text>
<text transform="translate(438.55,72.64) scale(0.93,1)">-0.72</text>
<text transform="translate(463.66,72.64) scale(0.93,1)">0.71</text>
<text transform="translate(488.77,72.64) scale(0.93,1)">0.60</text>
<text transform="translate(513.88,72.64) scale(0.93,1)">0.62</text>
<text transform="translate(539.00,72.64) scale(0.93,1)">0.74</text>
<text transform="translate(564.11,72.64) scale(0.93,1)">0.49</text>
<text transform="translate(589.22,72.64) scale(0.93,1)">0.79</text>
<text transform="translate(614.33,72.64) scale(0.93,1)">0.73</text>
<text transform="translate(639.44,72.64) scale(0.93,1)">0.69</text>
<text transform="translate(187.43,83.72) scale(0.93,1)">0.87</text>
<text transform="translate(212.54,83.72) scale(0.93,1)">0.93</text>
<text transform="translate(237.65,83.72) scale(0.93,1)">1.00</text>
<text transform="translate(262.76,83.72) scale(0.93,1)">0.92</text>
<text transform="translate(287.88,83.72) scale(0.93,1)">0.87</text>
<text transform="translate(312.99,83.72) scale(0.93,1)">0.90</text>
<text transform="translate(338.10,83.72) scale(0.93,1)">-0.07</text>
<text transform="translate(363.21,83.72) scale(0.93,1)">-0.68</text>
<text transform="translate(388.32,83.72) scale(0.93,1)">0.78</text>
<text transform="translate(413.44,83.72) scale(0.93,1)">0.92</text>
<text transform="translate(438.55,83.72) scale(0.93,1)">-0.68</text>
<text transform="translate(463.66,83.72) scale(0.93,1)">0.78</text>
<text transform="translate(488.77,83.72) scale(0.93,1)">0.71</text>
<text transform="translate(513.88,83.72) scale(0.93,1)">0.79</text>
<text transform="translate(539.00,83.72) scale(0.93,1)">0.72</text>
<text transform="translate(564.11,83.72) scale(0.93,1)">0.65</text>
<text transform="translate(589.22,83.72) scale(0.93,1)">0.77</text>
<text transform="translate(614.33,83.72) scale(0.93,1)">0.77</text>
<text transform="translate(639.44,83.72) scale(0.93,1)">0.69</text>
<text transform="translate(212.54,94.81) scale(0.93,1)">0.92</text>
<text transform="translate(237.65,94.81) scale(0.93,1)">0.87</text>
<text transform="translate(262.76,94.81) scale(0.93,1)">0.81</text>
<text transform="translate(287.88,94.81) scale(0.93,1)">0.88</text>
<text transform="translate(312.99,94.81) scale(0.93,1)">0.82</text>
<text transform="translate(338.10,94.81) scale(0.93,1)">-0.11</text>
<text transform="translate(363.21,94.81) scale(0.93,1)">-0.70</text>
<text transform="translate(388.32,94.81) scale(0.93,1)">0.65</text>
<text transform="translate(413.44,94.81) scale(0.93,1)">0.78</text>
<text transform="translate(438.55,94.81) scale(0.93,1)">-0.65</text>
<text transform="translate(463.66,94.81) scale(0.93,1)">0.69</text>
<text transform="translate(488.77,94.81) scale(0.93,1)">0.69</text>
<text transform="translate(513.88,94.81) scale(0.93,1)">0.75</text>
<text transform="translate(539.00,94.81) scale(0.93,1)">0.60</text>
<text transform="translate(564.11,94.81) scale(0.93,1)">0.54</text>
<text transform="translate(589.22,94.81) scale(0.93,1)">0.69</text>
<text transform="translate(614.33,94.81) scale(0.93,1)">0.69</text>
<text transform="translate(639.44,94.81) scale(0.93,1)">0.51</text>
<text transform="translate(237.65,105.90) scale(0.93,1)">0.94</text>
<text transform="translate(262.76,105.90) scale(0.93,1)">0.90</text>
<text transform="translate(287.88,105.90) scale(0.93,1)">0.85</text>
<text transform="translate(312.99,105.90) scale(0.93,1)">0.84</text>
<text transform="translate(338.10,105.90) scale(0.93,1)">-0.19</text>
<text transform="translate(363.21,105.90) scale(0.93,1)">-0.72</text>
<text transform="translate(388.32,105.90) scale(0.93,1)">0.68</text>
<text transform="translate(413.44,105.90) scale(0.93,1)">0.80</text>
<text transform="translate(438.55,105.90) scale(0.93,1)">-0.54</text>
<text transform="translate(463.66,105.90) scale(0.93,1)">0.66</text>
<text transform="translate(488.77,105.90) scale(0.93,1)">0.65</text>
<text transform="translate(513.88,105.90) scale(0.93,1)">0.74</text>
<text transform="translate(539.00,105.90) scale(0.93,1)">0.57</text>
<text transform="translate(564.11,105.90) scale(0.93,1)">0.56</text>
<text transform="translate(589.22,105.90) scale(0.93,1)">0.71</text>
<text transform="translate(614.33,105.90) scale(0.93,1)">0.68</text>
<text transform="translate(639.44,105.90) scale(0.93,1)">0.53</text>
<text transform="translate(262.76,116.98) scale(0.93,1)">0.95</text>
<text transform="translate(287.88,116.98) scale(0.93,1)">0.87</text>
<text transform="translate(312.99,116.98) scale(0.93,1)">0.90</text>
<text transform="translate(338.10,116.98) scale(0.93,1)">-0.13</text>
<text transform="translate(363.21,116.98) scale(0.93,1)">-0.68</text>
<text transform="translate(388.32,116.98) scale(0.93,1)">0.79</text>
<text transform="translate(413.44,116.98) scale(0.93,1)">0.91</text>
<text transform="translate(438.55,116.98) scale(0.93,1)">-0.67</text>
<text transform="translate(463.66,116.98) scale(0.93,1)">0.78</text>
<text transform="translate(488.77,116.98) scale(0.93,1)">0.71</text>
<text transform="translate(513.88,116.98) scale(0.93,1)">0.79</text>
<text transform="translate(539.00,116.98) scale(0.93,1)">0.71</text>
<text transform="translate(564.11,116.98) scale(0.93,1)">0.64</text>
<text transform="translate(589.22,116.98) scale(0.93,1)">0.77</text>
<text transform="translate(614.33,116.98) scale(0.93,1)">0.76</text>
<text transform="translate(639.44,116.98) scale(0.93,1)">0.70</text>
<text transform="translate(287.88,128.07) scale(0.93,1)">0.84</text>
<text transform="translate(312.99,128.07) scale(0.93,1)">0.85</text>
<text transform="translate(338.10,128.07) scale(0.93,1)">-0.42</text>
<text transform="translate(363.21,128.07) scale(0.93,1)">-0.61</text>
<text transform="translate(388.32,128.07) scale(0.93,1)">0.77</text>
<text transform="translate(413.44,128.07) scale(0.93,1)">0.78</text>
<text transform="translate(438.55,128.07) scale(0.93,1)">-0.52</text>
<text transform="translate(463.66,128.07) scale(0.93,1)">0.70</text>
<text transform="translate(488.77,128.07) scale(0.93,1)">0.61</text>
<text transform="translate(513.88,128.07) scale(0.93,1)">0.72</text>
<text transform="translate(539.00,128.07) scale(0.93,1)">0.59</text>
<text transform="translate(564.11,128.07) scale(0.93,1)">0.62</text>
<text transform="translate(589.22,128.07) scale(0.93,1)">0.65</text>
<text transform="translate(614.33,128.07) scale(0.93,1)">0.64</text>
<text transform="translate(639.44,128.07) scale(0.93,1)">0.61</text>
<text transform="translate(312.99,139.15) scale(0.93,1)">0.95</text>
<text transform="translate(338.10,139.15) scale(0.93,1)">-0.11</text>
<text transform="translate(363.21,139.15) scale(0.93,1)">-0.68</text>
<text transform="translate(388.32,139.15) scale(0.93,1)">0.73</text>
<text transform="translate(413.44,139.15) scale(0.93,1)">0.81</text>
<text transform="translate(438.55,139.15) scale(0.93,1)">-0.58</text>
<text transform="translate(463.66,139.15) scale(0.93,1)">0.66</text>
<text transform="translate(488.77,139.15) scale(0.93,1)">0.66</text>
<text transform="translate(513.88,139.15) scale(0.93,1)">0.84</text>
<text transform="translate(539.00,139.15) scale(0.93,1)">0.56</text>
<text transform="translate(564.11,139.15) scale(0.93,1)">0.59</text>
<text transform="translate(589.22,139.15) scale(0.93,1)">0.75</text>
<text transform="translate(614.33,139.15) scale(0.93,1)">0.69</text>
<text transform="translate(639.44,139.15) scale(0.93,1)">0.48</text>
<text transform="translate(338.10,150.24) scale(0.93,1)">-0.09</text>
<text transform="translate(363.21,150.24) scale(0.93,1)">-0.67</text>
<text transform="translate(388.32,150.24) scale(0.93,1)">0.81</text>
<text transform="translate(413.44,150.24) scale(0.93,1)">0.85</text>
<text transform="translate(438.55,150.24) scale(0.93,1)">-0.58</text>
<text transform="translate(463.66,150.24) scale(0.93,1)">0.67</text>
<text transform="translate(488.77,150.24) scale(0.93,1)">0.63</text>
<text transform="translate(513.88,150.24) scale(0.93,1)">0.78</text>
<text transform="translate(539.00,150.24) scale(0.93,1)">0.57</text>
<text transform="translate(564.11,150.24) scale(0.93,1)">0.62</text>
<text transform="translate(589.22,150.24) scale(0.93,1)">0.73</text>
<text transform="translate(614.33,150.24) scale(0.93,1)">0.66</text>
<text transform="translate(639.44,150.24) scale(0.93,1)">0.51</text>
<text transform="translate(363.21,161.33) scale(0.93,1)">0.04</text>
<text transform="translate(388.32,161.33) scale(0.93,1)">-0.20</text>
<text transform="translate(413.44,161.33) scale(0.93,1)">0.13</text>
<text transform="translate(438.55,161.33) scale(0.93,1)">-0.23</text>
<text transform="translate(463.66,161.33) scale(0.93,1)">0.02</text>
<text transform="translate(488.77,161.33) scale(0.93,1)">0.01</text>
<text transform="translate(513.88,161.33) scale(0.93,1)">0.08</text>
<text transform="translate(539.00,161.33) scale(0.93,1)">0.11</text>
<text transform="translate(564.11,161.33) scale(0.93,1)">-0.05</text>
<text transform="translate(589.22,161.33) scale(0.93,1)">0.02</text>
<text transform="translate(614.33,161.33) scale(0.93,1)">0.09</text>
<text transform="translate(639.44,161.33) scale(0.93,1)">-0.01</text>
<text transform="translate(388.32,172.41) scale(0.93,1)">-0.49</text>
<text transform="translate(413.44,172.41) scale(0.93,1)">-0.67</text>
<text transform="translate(438.55,172.41) scale(0.93,1)">0.52</text>
<text transform="translate(463.66,172.41) scale(0.93,1)">-0.56</text>
<text transform="translate(488.77,172.41) scale(0.93,1)">-0.51</text>
<text transform="translate(513.88,172.41) scale(0.93,1)">-0.70</text>
<text transform="translate(539.00,172.41) scale(0.93,1)">-0.36</text>
<text transform="translate(564.11,172.41) scale(0.93,1)">-0.30</text>
<text transform="translate(589.22,172.41) scale(0.93,1)">-0.59</text>
<text transform="translate(614.33,172.41) scale(0.93,1)">-0.59</text>
<text transform="translate(639.44,172.41) scale(0.93,1)">-0.32</text>
<text transform="translate(413.44,183.50) scale(0.93,1)">0.82</text>
<text transform="translate(438.55,183.50) scale(0.93,1)">-0.46</text>
<text transform="translate(463.66,183.50) scale(0.93,1)">0.50</text>
<text transform="translate(488.77,183.50) scale(0.93,1)">0.49</text>
<text transform="translate(513.88,183.50) scale(0.93,1)">0.62</text>
<text transform="translate(539.00,183.50) scale(0.93,1)">0.60</text>
<text transform="translate(564.11,183.50) scale(0.93,1)">0.74</text>
<text transform="translate(589.22,183.50) scale(0.93,1)">0.61</text>
<text transform="translate(614.33,183.50) scale(0.93,1)">0.55</text>
<text transform="translate(639.44,183.50) scale(0.93,1)">0.59</text>
<text transform="translate(438.55,194.58) scale(0.93,1)">-0.71</text>
<text transform="translate(463.66,194.58) scale(0.93,1)">0.77</text>
<text transform="translate(488.77,194.58) scale(0.93,1)">0.67</text>
<text transform="translate(513.88,194.58) scale(0.93,1)">0.80</text>
<text transform="translate(539.00,194.58) scale(0.93,1)">0.75</text>
<text transform="translate(564.11,194.58) scale(0.93,1)">0.64</text>
<text transform="translate(589.22,194.58) scale(0.93,1)">0.75</text>
<text transform="translate(614.33,194.58) scale(0.93,1)">0.74</text>
<text transform="translate(639.44,194.58) scale(0.93,1)">0.70</text>
<text transform="translate(463.66,205.67) scale(0.93,1)">-0.82</text>
<text transform="translate(488.77,205.67) scale(0.93,1)">-0.55</text>
<text transform="translate(513.88,205.67) scale(0.93,1)">-0.64</text>
<text transform="translate(539.00,205.67) scale(0.93,1)">-0.71</text>
<text transform="translate(564.11,205.67) scale(0.93,1)">-0.33</text>
<text transform="translate(589.22,205.67) scale(0.93,1)">-0.66</text>
<text transform="translate(614.33,205.67) scale(0.93,1)">-0.57</text>
<text transform="translate(639.44,205.67) scale(0.93,1)">-0.81</text>
<text transform="translate(488.77,216.76) scale(0.93,1)">0.75</text>
<text transform="translate(513.88,216.76) scale(0.93,1)">0.76</text>
<text transform="translate(539.00,216.76) scale(0.93,1)">0.58</text>
<text transform="translate(564.11,216.76) scale(0.93,1)">0.33</text>
<text transform="translate(589.22,216.76) scale(0.93,1)">0.65</text>
<text transform="translate(614.33,216.76) scale(0.93,1)">0.67</text>
<text transform="translate(639.44,216.76) scale(0.93,1)">0.77</text>
<text transform="translate(513.88,227.84) scale(0.93,1)">0.67</text>
<text transform="translate(539.00,227.84) scale(0.93,1)">0.48</text>
<text transform="translate(564.11,227.84) scale(0.93,1)">0.42</text>
<text transform="translate(589.22,227.84) scale(0.93,1)">0.67</text>
<text transform="translate(614.33,227.84) scale(0.93,1)">0.81</text>
<text transform="translate(639.44,227.84) scale(0.93,1)">0.60</text>
<text transform="translate(539.00,238.93) scale(0.93,1)">0.41</text>
<text transform="translate(564.11,238.93) scale(0.93,1)">0.44</text>
<text transform="translate(589.22,238.93) scale(0.93,1)">0.58</text>
<text transform="translate(614.33,238.93) scale(0.93,1)">0.68</text>
<text transform="translate(639.44,238.93) scale(0.93,1)">0.48</text>
<text transform="translate(564.11,250.01) scale(0.93,1)">0.60</text>
<text transform="translate(589.22,250.01) scale(0.93,1)">0.68</text>
<text transform="translate(614.33,250.01) scale(0.93,1)">0.72</text>
<text transform="translate(639.44,250.01) scale(0.93,1)">0.76</text>
<text transform="translate(589.22,261.10) scale(0.93,1)">0.46</text>
<text transform="translate(614.33,261.10) scale(0.93,1)">0.40</text>
<text transform="translate(639.44,261.10) scale(0.93,1)">0.55</text>
<text transform="translate(614.33,272.19) scale(0.93,1)">0.75</text>
<text transform="translate(639.44,272.19) scale(0.93,1)">0.72</text>
<text transform="translate(639.44,283.27) scale(0.93,1)">0.57</text>
</g>
<g font-size="8" text-anchor="end" stroke="#000" stroke-width="0.15">
<text transform="translate(22.4,28.39) scale(0.97,1)">LL</text>
<text transform="translate(22.4,39.48) scale(0.97,1)">LB</text>
<text transform="translate(22.4,50.57) scale(0.97,1)">LA</text>
<text transform="translate(22.4,61.65) scale(0.97,1)">LP</text>
<text transform="translate(22.4,72.74) scale(0.97,1)">TC</text>
<text transform="translate(22.4,83.82) scale(0.97,1)">FrW</text>
<text transform="translate(22.4,94.91) scale(0.97,1)">FrD</text>
<text transform="translate(22.4,106.00) scale(0.97,1)">FrL</text>
<text transform="translate(22.4,117.08) scale(0.97,1)">PW</text>
<text transform="translate(22.4,128.17) scale(0.97,1)">EP</text>
<text transform="translate(22.4,139.25) scale(0.97,1)">SL</text>
<text transform="translate(22.4,150.34) scale(0.97,1)">SD</text>
<text transform="translate(22.4,161.43) scale(0.97,1)">SW</text>
<text transform="translate(22.4,172.51) scale(0.97,1)">Mo</text>
<text transform="translate(22.4,183.60) scale(0.97,1)">Ju</text>
<text transform="translate(22.4,194.68) scale(0.97,1)">TSS</text>
<text transform="translate(22.4,205.77) scale(0.97,1)">Ac</text>
<text transform="translate(22.4,216.86) scale(0.97,1)">AA</text>
<text transform="translate(22.4,227.94) scale(0.97,1)">TS</text>
<text transform="translate(22.4,239.03) scale(0.97,1)">TCHO</text>
<text transform="translate(22.4,250.11) scale(0.97,1)">TPr</text>
<text transform="translate(22.4,261.20) scale(0.97,1)">Crtds</text>
<text transform="translate(22.4,272.29) scale(0.97,1)">TPh</text>
<text transform="translate(22.4,283.37) scale(0.97,1)">TFn</text>
<text transform="translate(22.4,294.46) scale(0.97,1)">DPPH</text>
</g>
<g font-size="8" text-anchor="start" stroke="#000" stroke-width="0.15" clip-path="url(#topclip)">
<text transform="translate(38.36,16.3) rotate(-90) scale(0.95,1)">LL</text>
<text transform="translate(63.47,16.3) rotate(-90) scale(0.95,1)">LB</text>
<text transform="translate(88.58,16.3) rotate(-90) scale(0.95,1)">LA</text>
<text transform="translate(113.69,16.3) rotate(-90) scale(0.95,1)">LP</text>
<text transform="translate(138.80,16.3) rotate(-90) scale(0.95,1)">TC</text>
<text transform="translate(163.92,16.3) rotate(-90) scale(0.95,1)">FrW</text>
<text transform="translate(189.03,16.3) rotate(-90) scale(0.95,1)">FrD</text>
<text transform="translate(214.14,16.3) rotate(-90) scale(0.95,1)">FrL</text>
<text transform="translate(239.25,16.3) rotate(-90) scale(0.95,1)">PW</text>
<text transform="translate(264.36,16.3) rotate(-90) scale(0.95,1)">EP</text>
<text transform="translate(289.48,16.3) rotate(-90) scale(0.95,1)">SL</text>
<text transform="translate(314.59,16.3) rotate(-90) scale(0.95,1)">SD</text>
<text transform="translate(339.70,16.3) rotate(-90) scale(0.95,1)">SW</text>
<text transform="translate(364.81,16.3) rotate(-90) scale(0.95,1)">Mo</text>
<text transform="translate(389.92,16.3) rotate(-90) scale(0.95,1)">Ju</text>
<text transform="translate(415.04,16.3) rotate(-90) scale(0.95,1)">TSS</text>
<text transform="translate(440.15,16.3) rotate(-90) scale(0.95,1)">Ac</text>
<text transform="translate(465.26,16.3) rotate(-90) scale(0.95,1)">AA</text>
<text transform="translate(490.37,16.3) rotate(-90) scale(0.95,1)">TS</text>
<text transform="translate(515.48,16.3) rotate(-90) scale(0.95,1)">TCHO</text>
<text transform="translate(540.60,16.3) rotate(-90) scale(0.95,1)">TPr</text>
<text transform="translate(565.71,16.3) rotate(-90) scale(0.95,1)">Crtds</text>
<text transform="translate(590.82,16.3) rotate(-90) scale(0.95,1)">TPh</text>
<text transform="translate(615.93,16.3) rotate(-90) scale(0.95,1)">TFn</text>
<text transform="translate(641.04,16.3) rotate(-90) scale(0.95,1)">DPPH</text>
</g>
<rect x="654.8" y="112.5" width="6.5" height="91.2" fill="url(#cb)"/>
<g font-size="7.8" text-anchor="start">
<text x="663.3" y="115.20">1</text>
<text x="663.3" y="145.60">0.333</text>
<text x="663.3" y="176.50">-0.333</text>
<text x="663.3" y="207.70">-1</text>
</g>
</svg></body></html>
